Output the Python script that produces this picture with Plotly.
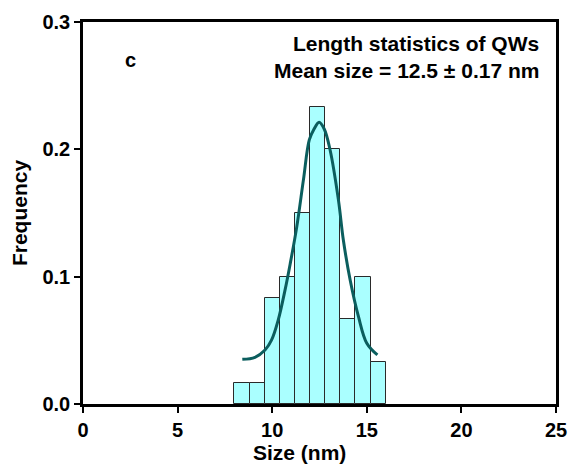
import plotly.graph_objects as go

# Histogram bins (centers, nm) and frequencies
bin_centers = [8.4, 9.2, 10.0, 10.8, 11.6, 12.4, 13.2, 14.0, 14.8, 15.6]
bin_width = 0.8
frequency = [0.0167, 0.0167, 0.0833, 0.1, 0.15, 0.2333, 0.2, 0.0667, 0.1, 0.0333]

# Gaussian fit curve
fit_x = [8.42, 9.09, 9.62, 9.97, 10.32, 10.68, 10.95, 11.30, 11.65, 11.96, 12.2, 12.48,
         12.75, 13.06, 13.50, 13.76, 14.12, 14.56, 15.00, 15.56]
fit_y = [0.0351, 0.0367, 0.0424, 0.0503, 0.066, 0.0896, 0.110, 0.1393, 0.176, 0.2074, 0.2156, 0.2213,
         0.216, 0.1995, 0.1603, 0.1288, 0.0974, 0.0686, 0.0477, 0.0385]

x_ticks = [0, 5, 10, 15, 20, 25]
y_ticks = [0.0, 0.1, 0.2, 0.3]

FONT = "Liberation Sans, Arial, sans-serif"

fig = go.Figure()
fig.add_trace(go.Bar(
    x=bin_centers, y=frequency, width=bin_width,
    marker=dict(color="#aaffff", line=dict(color="#2a2a2a", width=1)),
    showlegend=False,
))
fig.add_trace(go.Scatter(
    x=fit_x, y=fit_y, mode="lines",
    line=dict(color="#0b5e5e", width=3, shape="spline", smoothing=1.0),
    showlegend=False,
))

fig.update_layout(
    width=571, height=464,
    margin=dict(l=83, r=15, t=22, b=60),
    paper_bgcolor="white", plot_bgcolor="white",
    font=dict(family=FONT, size=20, color="black"),
    bargap=0,
    xaxis=dict(
        range=[0, 25], tickvals=x_ticks, ticktext=[str(v) for v in x_ticks],
        showline=True, linecolor="black", linewidth=2.5, mirror=True,
        ticks="outside", ticklen=6, tickwidth=2, tickcolor="black",
        showgrid=False, zeroline=False, automargin=False,
        tickfont=dict(size=20, family=FONT, weight="bold"),
    ),
    yaxis=dict(
        range=[0, 0.3], tickvals=y_ticks, ticktext=[f"{v:.1f}" for v in y_ticks],
        showline=True, linecolor="black", linewidth=2.5, mirror=True,
        ticks="outside", ticklen=6, tickwidth=2, tickcolor="black",
        showgrid=False, zeroline=False, automargin=False,
        title=dict(text="<b>Frequency</b>", font=dict(size=21), standoff=10),
        tickfont=dict(size=20, family=FONT, weight="bold"),
    ),
    annotations=[
        dict(text="<b>Size (nm)</b>", xref="paper", yref="paper",
             x=0.457, y=-0.126, xanchor="center", yanchor="middle", showarrow=False,
             font=dict(size=21)),
        dict(text="<b>Length statistics of QWs</b>", xref="paper", yref="paper",
             x=0.968, y=0.945, xanchor="right", yanchor="middle", showarrow=False,
             font=dict(size=21)),
        dict(text="<b>Mean size = 12.5 ± 0.17 nm</b>", xref="paper", yref="paper",
             x=0.968, y=0.874, xanchor="right", yanchor="middle", showarrow=False,
             font=dict(size=21)),
        dict(text="<b>c</b>", xref="paper", yref="paper",
             x=0.101, y=0.90, xanchor="center", yanchor="middle", showarrow=False,
             font=dict(size=20)),
    ],
)

fig.write_html("out.html")
